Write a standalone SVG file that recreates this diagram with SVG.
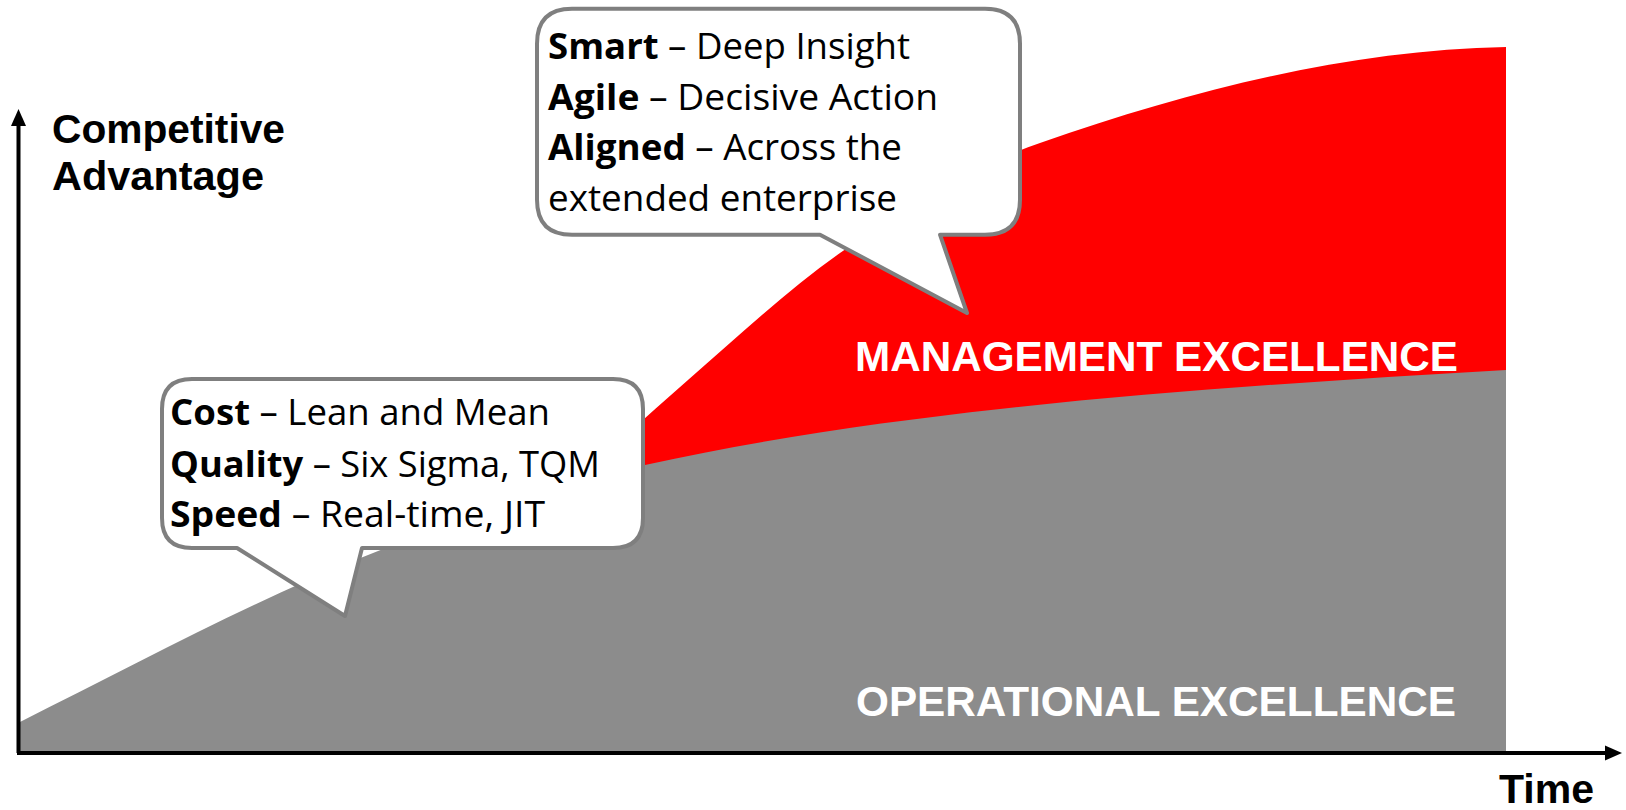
<svg xmlns="http://www.w3.org/2000/svg" width="1626" height="810" viewBox="0 0 1626 810">
  <style>
    .axis { stroke: #000; stroke-width: 4; fill: none; }
    .axislabel { font-family: "Liberation Sans", Arial, sans-serif; font-weight: bold; font-size: 41px; fill: #000; }
    .arealabel { font-family: "Liberation Sans", Arial, sans-serif; font-weight: bold; font-size: 42px; fill: #fff; }
    .bubble { fill: #fff; stroke: #7f7f7f; stroke-width: 4; stroke-linejoin: round; }
    .btext { font-family: "Open Sans", "Noto Sans", sans-serif; font-size: 36px; fill: #000; }
    .b { font-weight: bold; }
  </style>
  <defs>
    <marker id="arrow" markerUnits="userSpaceOnUse" markerWidth="17" markerHeight="16" refX="0" refY="8" orient="auto">
      <path d="M0,0.5 L17,8 L0,15.5 Z" fill="#000"/>
    </marker>
  </defs>
  <rect width="1626" height="810" fill="#fff"/>

  <g id="management-excellence-area">
    <path d="M560,495 C602.7,456.6 645.3,417.1 688,380 C738.7,335.9 789.3,288.5 840,253 C906.7,206.3 973.3,166.3 1040,143 C1195.3,88.6 1350.7,50.1 1506,47 L1506,753 L560,753 Z" fill="#ff0000"/>
  </g>
  <g id="operational-excellence-area">
    <path d="M20,722 C134,665 249,603 363,557 C457,519 551,486 645,465 C763,439 882,422 1000,409 C1169,390 1337,380 1506,370 L1506,753 L20,753 Z" fill="#8c8c8c"/>
  </g>

  <g id="connectors">
    <line class="axis" x1="18.5" y1="753" x2="18.5" y2="126" marker-end="url(#arrow)"/>
    <line class="axis" x1="17" y1="753" x2="1605" y2="753" marker-end="url(#arrow)"/>
  </g>

  <g id="axis-labels">
    <text class="axislabel" x="52" y="143" textLength="233" lengthAdjust="spacingAndGlyphs">Competitive</text>
    <text class="axislabel" x="52" y="190" textLength="212" lengthAdjust="spacingAndGlyphs">Advantage</text>
    <text class="axislabel" x="1499" y="803" textLength="95" lengthAdjust="spacingAndGlyphs">Time</text>
  </g>

  <g id="area-labels">
    <text class="arealabel" x="855" y="371" textLength="603" lengthAdjust="spacingAndGlyphs">MANAGEMENT EXCELLENCE</text>
    <text class="arealabel" x="856" y="716" textLength="600" lengthAdjust="spacingAndGlyphs">OPERATIONAL EXCELLENCE</text>
  </g>

  <g id="bubble-operational">
    <path class="bubble" d="M192,379 L613,379 Q643,379 643,409 L643,518 Q643,548 613,548 L362,548 L345,616 L237,548 L192,548 Q162,548 162,518 L162,409 Q162,379 192,379 Z"/>
    <text class="btext" x="170" y="425" textLength="380" lengthAdjust="spacingAndGlyphs"><tspan class="b">Cost</tspan> – Lean and Mean</text>
    <text class="btext" x="170" y="476.5" textLength="430" lengthAdjust="spacingAndGlyphs"><tspan class="b">Quality</tspan> – Six Sigma, TQM</text>
    <text class="btext" x="170" y="527" textLength="375" lengthAdjust="spacingAndGlyphs"><tspan class="b">Speed</tspan> – Real-time, JIT</text>
  </g>

  <g id="bubble-management">
    <path class="bubble" d="M572,8.7 L985,8.7 Q1020,8.7 1020,43.7 L1020,199.7 Q1020,234.7 985,234.7 L940,234.7 L967,313 L820,234.7 L572,234.7 Q537,234.7 537,199.7 L537,43.7 Q537,8.7 572,8.7 Z"/>
    <text class="btext" x="548" y="59" textLength="362" lengthAdjust="spacingAndGlyphs"><tspan class="b">Smart</tspan> – Deep Insight</text>
    <text class="btext" x="548" y="110" textLength="390" lengthAdjust="spacingAndGlyphs"><tspan class="b">Agile</tspan> – Decisive Action</text>
    <text class="btext" x="548" y="160" textLength="354" lengthAdjust="spacingAndGlyphs"><tspan class="b">Aligned</tspan> – Across the</text>
    <text class="btext" x="548" y="211" textLength="349" lengthAdjust="spacingAndGlyphs">extended enterprise</text>
  </g>
</svg>
